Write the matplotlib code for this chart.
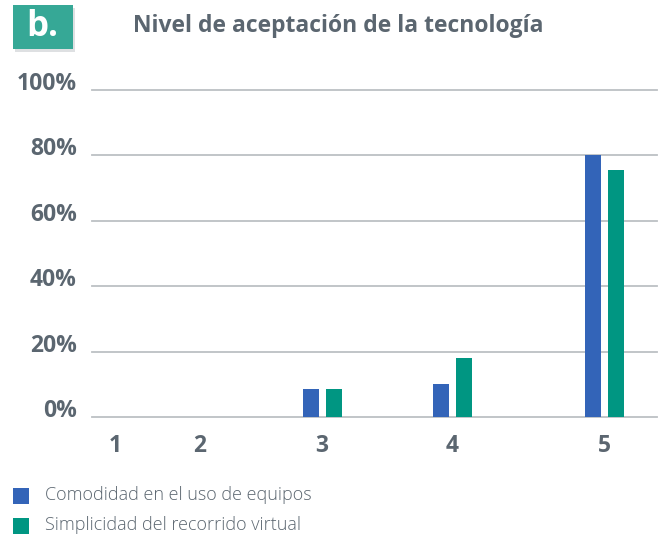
import matplotlib
matplotlib.use("Agg")
import matplotlib.pyplot as plt
from matplotlib.patches import Rectangle

categories = ["1", "2", "3", "4", "5"]
comodidad = [0.0, 0.0, 8.5, 10.0, 80.0]
simplicidad = [0.0, 0.0, 8.5, 18.0, 75.5]
series_names = ["Comodidad en el uso de equipos", "Simplicidad del recorrido virtual"]
yticks = [0, 20, 40, 60, 80, 100]
ytick_labels = ["0%", "20%", "40%", "60%", "80%", "100%"]
title = "Nivel de aceptación de la tecnología"

# layout (category centres in axis units, non-uniform as in reference)
cat_pos = [115, 200, 322, 452, 604]
bar_w = 16
gap = 7

BLUE = "#3364b8"
GREEN = "#009682"
TEXT = "#5b6670"
GRID = "#bcc0c4"

W, H = 667, 540
fig = plt.figure(figsize=(W / 100, H / 100), dpi=100)
ax = fig.add_axes([92 / W, 123 / H, (657 - 92) / W, (417 - 90) / H])
ax.set_xlim(92, 657)
ax.set_ylim(0, 100)

for y in yticks:
    ax.axhline(y, color=GRID, lw=1.3, zorder=0, clip_on=False)

xb = [p - (bar_w + gap) / 2 for p in cat_pos]
xg = [p + (bar_w + gap) / 2 for p in cat_pos]
ax.bar(xb, comodidad, width=bar_w, color=BLUE, zorder=2)
ax.bar(xg, simplicidad, width=bar_w, color=GREEN, zorder=2)

for s in ax.spines.values():
    s.set_visible(False)
ax.set_yticks(yticks)
ax.set_yticklabels(ytick_labels)
ax.set_xticks(cat_pos)
ax.set_xticklabels(categories)
ax.tick_params(length=0)
for lab in ax.get_yticklabels() + ax.get_xticklabels():
    lab.set_fontfamily("Open Sans")
    lab.set_fontweight("bold")
    lab.set_fontsize(16.5)
    lab.set_color(TEXT)
for lab in ax.get_yticklabels():
    lab.set_verticalalignment("baseline")
ax.tick_params(axis="y", pad=11)
ax.tick_params(axis="x", pad=12)

# title
fig.text(133 / W, 1 - 26 / H, title, fontfamily="Open Sans", fontweight="bold",
         fontsize=16.5, color=TEXT, va="center", ha="left")

# badge
fig.patches.append(Rectangle((15 / W, 1 - 52 / H), 60 / W, 44 / H, transform=fig.transFigure,
                             facecolor="#c9cccf", edgecolor="none", alpha=0.6))
fig.patches.append(Rectangle((13 / W, 1 - 49 / H), 60 / W, 44 / H, transform=fig.transFigure,
                             facecolor="#36a896", edgecolor="none"))
fig.text(42 / W, 1 - 27 / H, "b.", fontfamily="Open Sans", fontweight="bold",
         fontsize=25, color="white", ha="center", va="center")

# legend
for i, (name, col) in enumerate(zip(series_names, [BLUE, GREEN])):
    yc = 495.5 + i * 30
    fig.patches.append(Rectangle((13 / W, 1 - (yc + 8) / H), 16 / W, 16 / H,
                                 transform=fig.transFigure, facecolor=col, edgecolor="none"))
    fig.text(45 / W, 1 - yc / H, name, fontfamily="Open Sans", fontweight="light",
             fontsize=13, color=TEXT, ha="left", va="center")

fig.savefig("out.png", dpi=100)
